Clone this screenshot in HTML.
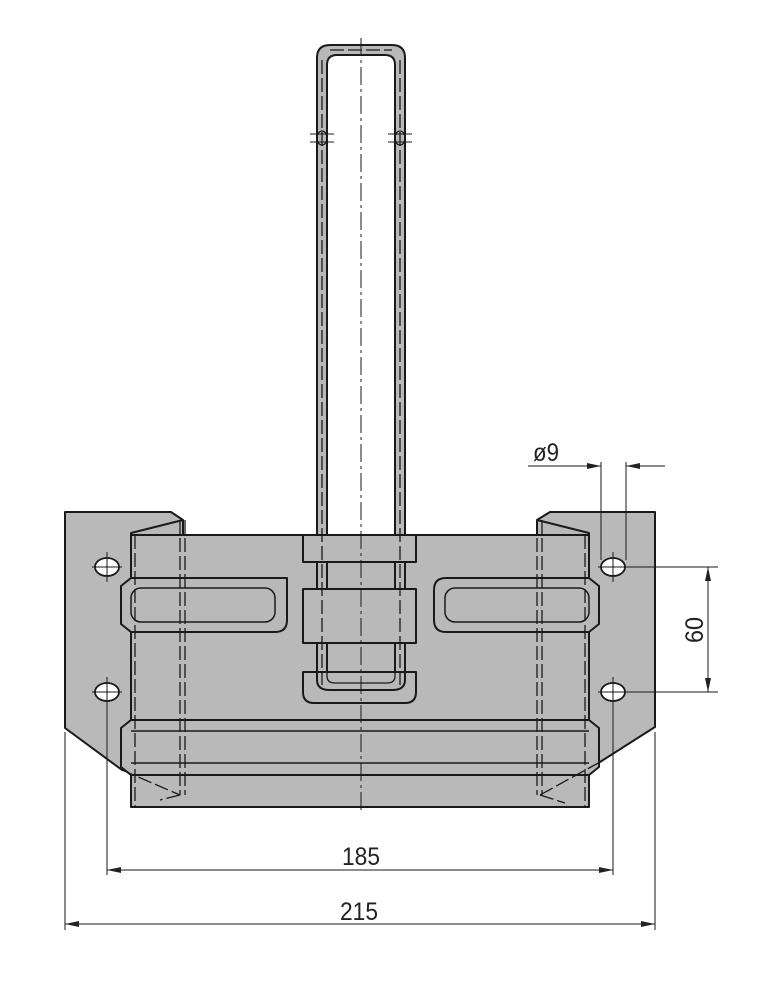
<!DOCTYPE html>
<html><head><style>html,body{margin:0;padding:0;background:#fff}svg{display:block}</style></head>
<body>
<svg width="769" height="1000" viewBox="0 0 769 1000" xmlns="http://www.w3.org/2000/svg" font-family="Liberation Sans, sans-serif">
<g stroke="#1a1a1a" stroke-width="2" fill="#b9b9b9" stroke-linejoin="round">
<polygon points="65,512 171,512 183,520 183,780 122,770 65,728"/>
<polygon points="655,512 550,512 537,520 537,780 600,762 655,727"/>
<rect x="131" y="535" width="458" height="272"/>
<polyline points="131,535 131,533 183,520" fill="none"/>
<polyline points="589,535 589,533 537,520" fill="none"/>
<path d="M131,578 L287,578 Q287,578 287,590 L287,620 Q287,632 275,632 L131,632 L121,624 L121,586 Z"/>
<path d="M589,578 L446,578 Q434,578 434,590 L434,620 Q434,632 446,632 L589,632 L599,624 L599,586 Z"/>
<path d="M131,720 L589,720 L599,728 L599,767 L589,775 L131,775 L121,767 L121,728 Z"/>
<path d="M317,690 L317,58 Q317,45 330,45 L392,45 Q405,45 405,58 L405,690 Z"/>
<path d="M327,690 L327,65 Q327,55 337,55 L385,55 Q395,55 395,65 L395,690" fill="#fff"/>
<rect x="327" y="562" width="68" height="112" fill="#b9b9b9" stroke="none"/>
<line x1="327" y1="562" x2="327" y2="674"/><line x1="395" y1="562" x2="395" y2="674"/>
<rect x="303" y="535" width="113" height="27"/>
<rect x="303" y="589" width="113" height="54"/>
<path d="M303,672 L416,672 L416,692 Q416,703 405,703 L314,703 Q303,703 303,692 Z"/>
<path d="M317,672 L317,680 Q317,690 330,690 L392,690 Q405,690 405,680 L405,672" fill="none"/>
<path d="M327,672 L327,676 Q327,683 335,683 L387,683 Q395,683 395,676 L395,672" fill="none" stroke-width="1.3"/>
</g>
<g fill="none" stroke="#1a1a1a">
<rect x="131" y="588" width="144" height="34" rx="10" stroke-width="1.5"/>
<rect x="445" y="588" width="144" height="34" rx="10" stroke-width="1.5"/>
<line x1="131" y1="731" x2="589" y2="731" stroke-width="1.5"/>
<line x1="131" y1="763" x2="589" y2="763" stroke-width="1.5"/>
<g stroke-dasharray="14,4" stroke-width="1.3">
<line x1="135" y1="535" x2="135" y2="807"/><line x1="180" y1="520" x2="180" y2="795"/>
<line x1="185" y1="520" x2="185" y2="795"/>
<line x1="537" y1="520" x2="537" y2="795"/><line x1="542" y1="520" x2="542" y2="795"/>
<line x1="585" y1="535" x2="585" y2="807"/>
<line x1="122" y1="770" x2="180" y2="795"/><line x1="180" y1="795" x2="160" y2="800"/>
<line x1="600" y1="762" x2="540" y2="795"/><line x1="540" y1="795" x2="565" y2="803"/>
<line x1="322" y1="60" x2="322" y2="685"/><line x1="400" y1="60" x2="400" y2="685"/>
<line x1="330" y1="50" x2="392" y2="50"/>
</g>
<line x1="361" y1="38" x2="361" y2="810" stroke-width="1" stroke-dasharray="18,4,3,4"/>
<ellipse cx="322" cy="138" rx="5" ry="7" stroke-width="1.3"/>
<ellipse cx="400" cy="138" rx="5" ry="7" stroke-width="1.3"/>
<line x1="310" y1="134" x2="334" y2="134" stroke-width="1"/><line x1="310" y1="142" x2="334" y2="142" stroke-width="1"/>
<line x1="388" y1="134" x2="412" y2="134" stroke-width="1"/><line x1="388" y1="142" x2="412" y2="142" stroke-width="1"/>
<g fill="#fff" stroke-width="1.8">
<ellipse cx="107" cy="567" rx="12" ry="9"/><ellipse cx="107" cy="692" rx="12" ry="9"/>
<ellipse cx="613" cy="567" rx="12" ry="9"/><ellipse cx="613" cy="692" rx="12" ry="9"/>
</g>
<g stroke-width="1">
<line x1="92" y1="567" x2="122" y2="567"/><line x1="107" y1="552" x2="107" y2="582"/>
<line x1="92" y1="692" x2="122" y2="692"/><line x1="107" y1="677" x2="107" y2="875"/>
<line x1="598" y1="567" x2="718" y2="567"/><line x1="613" y1="552" x2="613" y2="582"/>
<line x1="598" y1="692" x2="718" y2="692"/><line x1="613" y1="677" x2="613" y2="875"/>
<line x1="65" y1="732" x2="65" y2="930"/><line x1="655" y1="732" x2="655" y2="930"/>
<line x1="601" y1="462" x2="601" y2="560"/><line x1="626" y1="462" x2="626" y2="560"/>
<line x1="107" y1="870" x2="613" y2="870"/>
<line x1="65" y1="924" x2="655" y2="924"/>
<line x1="708" y1="567" x2="708" y2="692"/>
<line x1="528" y1="466" x2="601" y2="466"/>
<line x1="626" y1="466" x2="665" y2="466"/>
</g>
</g>
<g fill="#222">
<path d="M107,870 l14,-3 l0,6z"/><path d="M613,870 l-14,-3 l0,6z"/>
<path d="M65,924 l14,-3 l0,6z"/><path d="M655,924 l-14,-3 l0,6z"/>
<path d="M708,567 l-3,14 l6,0z"/><path d="M708,692 l-3,-14 l6,0z"/>
<path d="M601,466 l-14,-3 l0,6z"/><path d="M626,466 l14,-3 l0,6z"/>
</g>
<g fill="#222" font-size="25">
<text x="342" y="865" textLength="38" lengthAdjust="spacingAndGlyphs">185</text>
<text x="340" y="920" textLength="38" lengthAdjust="spacingAndGlyphs">215</text>
<text x="533" y="461" textLength="26" lengthAdjust="spacingAndGlyphs">ø9</text>
<text transform="translate(703,643) rotate(-90)" textLength="26" lengthAdjust="spacingAndGlyphs">60</text>
</g>
</svg>
</body></html>
